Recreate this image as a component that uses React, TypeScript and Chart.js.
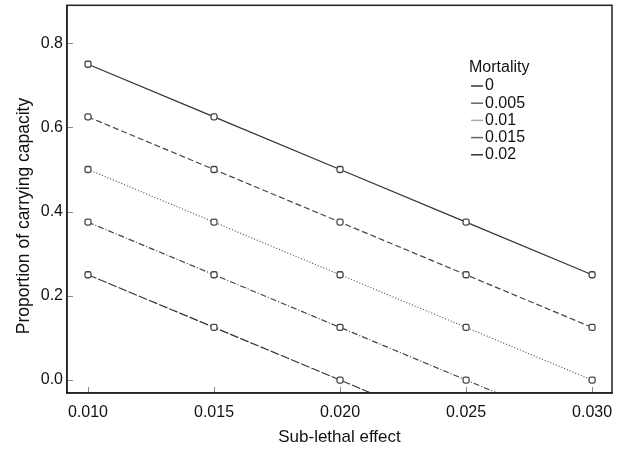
import React, { useEffect, useRef } from "react";
import { Chart, registerables } from "chart.js";
Chart.register(...registerables);

const subLethal = [0.01, 0.015, 0.02, 0.025, 0.03];
const mortalityLabels = ["0", "0.005", "0.01", "0.015", "0.02"];
const series0 = [0.75, 0.625, 0.5, 0.375, 0.25];
const series005 = [0.625, 0.5, 0.375, 0.25, 0.125];
const series01 = [0.5, 0.375, 0.25, 0.125, 0.0];
const series015 = [0.375, 0.25, 0.125, 0.0, -0.125];
const series02 = [0.25, 0.125, 0.0, -0.125, -0.25];
const xTicks = [0.01, 0.015, 0.02, 0.025, 0.03];
const yTicks = [0, 0.2, 0.4, 0.6, 0.8];
const yTitle = "Proportion of carrying capacity";
const xTitle = "Sub-lethal effect";
const legendTitle = "Mortality";

const allSeries = [series0, series005, series01, series015, series02];
const dashes: number[][] = [[], [6, 3], [1, 2], [6, 2, 1, 2], [9, 2]];
const colors = ["#333", "#444", "#555", "#444", "#333"];
const legendLineColors = ["#333", "#666", "#aaa", "#666", "#333"];
const FONT = "'Liberation Sans', Arial, sans-serif";

const frameAndLegend = {
  id: "frameAndLegend",
  afterDraw(chart: any) {
    const { ctx, chartArea, scales } = chart;
    ctx.save();
    // inward ticks
    ctx.strokeStyle = "#888";
    ctx.lineWidth = 1;
    xTicks.forEach((v) => {
      const px = Math.round(scales.x.getPixelForValue(v)) + 0.5;
      ctx.beginPath();
      ctx.moveTo(px, chartArea.bottom);
      ctx.lineTo(px, chartArea.bottom - 6);
      ctx.stroke();
    });
    yTicks.forEach((v) => {
      const py = Math.round(scales.y.getPixelForValue(v)) + 0.5;
      ctx.beginPath();
      ctx.moveTo(chartArea.left, py);
      ctx.lineTo(chartArea.left + 6, py);
      ctx.stroke();
    });
    // frame
    ctx.strokeStyle = "#222";
    ctx.lineWidth = 1.5;
    ctx.strokeRect(chartArea.left, chartArea.top, chartArea.right - chartArea.left, chartArea.bottom - chartArea.top);
    // y title
    ctx.fillStyle = "#111";
    ctx.save();
    ctx.translate(24, 216);
    ctx.rotate(-Math.PI / 2);
    ctx.font = "17.5px " + FONT;
    ctx.textAlign = "center";
    ctx.textBaseline = "middle";
    ctx.fillText(yTitle, 0, 0);
    ctx.restore();
    // legend
    const lx = 469;
    ctx.font = "16px " + FONT;
    ctx.textBaseline = "middle";
    ctx.textAlign = "left";
    ctx.fillText(legendTitle, lx, 68);
    let ly = 86;
    mortalityLabels.forEach((lab, i) => {
      ctx.beginPath();
      ctx.strokeStyle = legendLineColors[i];
      ctx.lineWidth = 1.5;
      ctx.setLineDash([]);
      ctx.moveTo(lx + 2, ly);
      ctx.lineTo(lx + 14, ly);
      ctx.stroke();
      ctx.fillText(lab, lx + 16, ly);
      ly += 17.2;
    });
    ctx.restore();
  },
};

export default function App() {
  const ref = useRef<HTMLCanvasElement>(null);
  useEffect(() => {
    const chart = new Chart(ref.current!, {
      type: "line",
      data: {
        datasets: allSeries.map((s, i) => ({
          label: mortalityLabels[i],
          data: s.map((v, j) => ({ x: subLethal[j], y: v })),
          borderColor: colors[i],
          borderWidth: 1.2,
          borderDash: dashes[i],
          pointStyle: "rectRounded",
          pointRadius: 3.5,
          pointBorderWidth: 1.3,
          pointBorderColor: "#444",
          pointBackgroundColor: "#fff",
          fill: false,
          tension: 0,
        })),
      },
      options: {
        animation: false,
        responsive: false,
        devicePixelRatio: 1,
        layout: { padding: { left: 0, right: 9, top: 4, bottom: 0 } },
        plugins: { legend: { display: false }, tooltip: { enabled: false } },
        scales: {
          x: {
            type: "linear",
            min: 0.009167,
            max: 0.03079,
            afterBuildTicks: (axis: any) => {
              axis.ticks = xTicks.map((v) => ({ value: v }));
            },
            afterFit: (axis: any) => {
              axis.height = 56;
              axis.paddingLeft = 0;
              axis.paddingRight = 0;
            },
            ticks: {
              color: "#111",
              font: { family: FONT, size: 16 },
              padding: 10,
              callback: (v: any) => Number(v).toFixed(3),
              maxRotation: 0,
            },
            grid: { drawOnChartArea: false, drawTicks: false },
            border: { display: true, color: "#222", width: 1.5 },
            title: {
              display: true,
              text: xTitle,
              color: "#111",
              font: { family: FONT, size: 17 },
              padding: { top: 4, bottom: 1 },
            },
          },
          y: {
            type: "linear",
            min: -0.0308,
            max: 0.89,
            afterBuildTicks: (axis: any) => {
              axis.ticks = yTicks.map((v) => ({ value: v }));
            },
            afterFit: (axis: any) => {
              axis.width = 67;
              axis.paddingTop = 0;
              axis.paddingBottom = 0;
            },
            ticks: {
              color: "#111",
              font: { family: FONT, size: 16 },
              padding: 4,
              callback: (v: any) => Number(v).toFixed(1),
            },
            grid: { drawOnChartArea: false, drawTicks: false },
            border: { display: true, color: "#222", width: 1.5 },
            title: { display: false },
          },
        },
      },
      plugins: [frameAndLegend],
    } as any);
    return () => chart.destroy();
  }, []);
  return (
    <div style={{ position: "fixed", left: 0, top: 0, width: 621, height: 449, background: "#fff" }}>
      <canvas ref={ref} width={621} height={449} style={{ width: 621, height: 449 }} />
    </div>
  );
}
